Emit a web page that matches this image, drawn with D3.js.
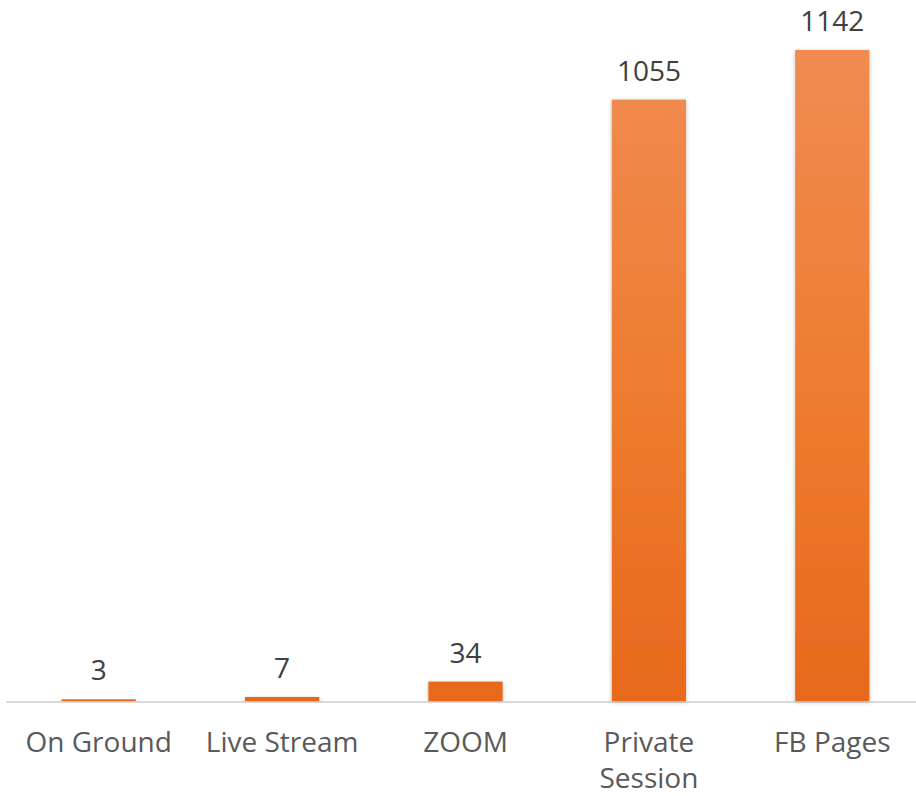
<!DOCTYPE html>
<html>
<head>
    <script src="https://d3js.org/d3.v7.min.js"></script>
    <style>
        body { margin: 0; background: #fff; }
        svg { display: block; }
        .lbl { font-family: "Open Sans", sans-serif; }
        .val { fill: #404040; }
        .cat { fill: #595959; }
    </style>
</head>
<body>
    <svg width="916" height="796" id="chart"></svg>
    <script>
        // data
        const categories = ["On Ground", "Live Stream", "ZOOM", "Private Session", "FB Pages"];
        const values = [3, 7, 34, 1055, 1142];
        const labelLines = [["On Ground"], ["Live Stream"], ["ZOOM"], ["Private", "Session"], ["FB Pages"]];

        const svg = d3.select("#chart");
        const baseY = 701;

        const x = d3.scaleBand()
            .domain(categories)
            .range([7, 924])
            .paddingInner(0.595)
            .paddingOuter(0.2975);

        const y = d3.scaleLinear()
            .domain([0, 1142])
            .range([baseY, 50]);

        const defs = svg.append("defs");
        const grad = defs.append("linearGradient")
            .attr("id", "barGrad")
            .attr("gradientUnits", "userSpaceOnUse")
            .attr("x1", 0).attr("x2", 0)
            .attr("y1", y(1142)).attr("y2", baseY);
        grad.append("stop").attr("offset", "0%").attr("stop-color", "#F08C52");
        grad.append("stop").attr("offset", "55%").attr("stop-color", "#EE7B2E");
        grad.append("stop").attr("offset", "100%").attr("stop-color", "#E7691C");

        const shadow = defs.append("filter")
            .attr("id", "shadow")
            .attr("x", "-20%").attr("y", "-5%")
            .attr("width", "140%").attr("height", "110%");
        shadow.append("feDropShadow")
            .attr("dx", 0).attr("dy", 1)
            .attr("stdDeviation", 2)
            .attr("flood-color", "#000")
            .attr("flood-opacity", 0.25);

        // axis line
        svg.append("line")
            .attr("x1", 6).attr("x2", 916)
            .attr("y1", baseY + 1).attr("y2", baseY + 1)
            .attr("stroke", "#d9d9d9")
            .attr("stroke-width", 2);

        // bars
        svg.selectAll("rect.bar")
            .data(values)
            .enter().append("rect")
            .attr("class", "bar")
            .attr("x", (d, i) => x(categories[i]))
            .attr("width", x.bandwidth())
            .attr("y", d => y(d))
            .attr("height", d => Math.max(baseY - y(d), 1.5))
            .attr("fill", "url(#barGrad)")
            .attr("filter", "url(#shadow)");

        // value labels
        svg.selectAll("text.val")
            .data(values)
            .enter().append("text")
            .attr("class", "lbl val")
            .attr("x", (d, i) => x(categories[i]) + x.bandwidth() / 2)
            .attr("y", d => Math.min(y(d), baseY - 1.5) - 19)
            .attr("text-anchor", "middle")
            .attr("font-size", "28px")
            .text(d => d);

        // category labels
        const cat = svg.selectAll("text.cat")
            .data(labelLines)
            .enter().append("text")
            .attr("class", "lbl cat")
            .attr("text-anchor", "middle")
            .attr("font-size", "28px")
            .attr("transform", (d, i) => `translate(${x(categories[i]) + x.bandwidth() / 2},752)`);
        cat.selectAll("tspan")
            .data(d => d)
            .enter().append("tspan")
            .attr("x", 0)
            .attr("dy", (d, j) => j === 0 ? 0 : 36)
            .text(d => d);
    </script>
</body>
</html>
